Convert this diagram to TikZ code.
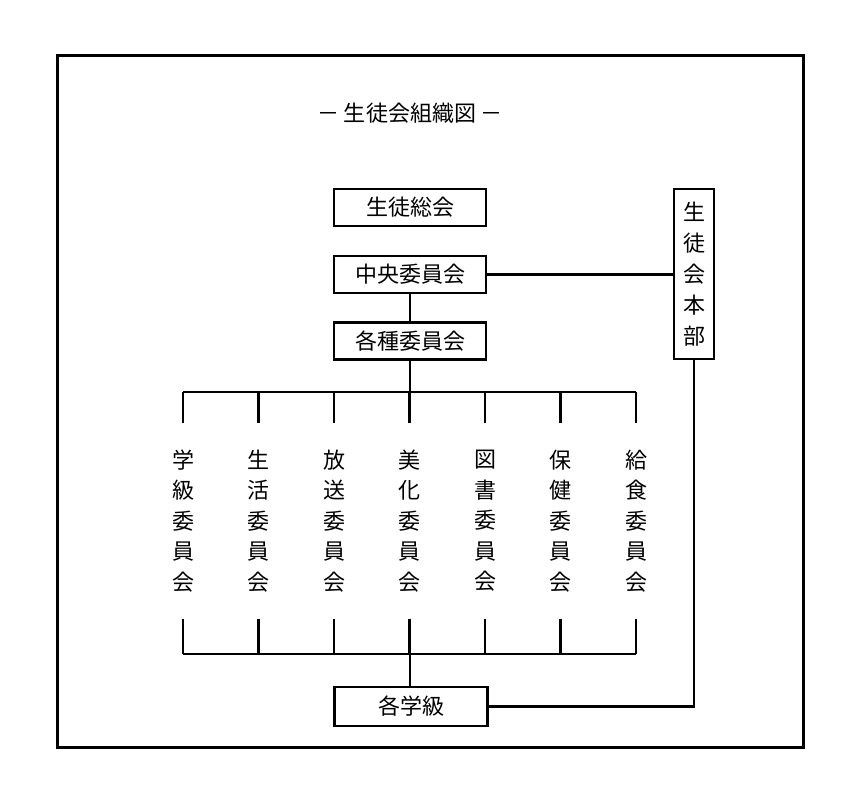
\documentclass[tikz,border=0pt]{standalone}
\usepackage{fontspec}
\setmainfont{Noto Sans CJK JP}
\begin{document}
\begin{tikzpicture}[x=1pt,y=-1pt,
  line width=2.1pt,
  box/.style={draw,line width=2.2pt,minimum width=152pt,minimum height=37pt,inner sep=0pt,font=\fontsize{22}{24}\selectfont},
  vbox/.style={draw,line width=2.2pt,minimum width=40pt,minimum height=170pt,inner sep=0pt,text width=40pt,align=center,font=\fontsize{22}{31}\selectfont},
  cmt/.style={inner sep=0pt,minimum height=193pt,text width=30pt,align=center,font=\fontsize{22}{30.5}\selectfont}]
\useasboundingbox (0,0) rectangle (850,796);
\fill[white] (0,0) rectangle (850,796);
\draw[line width=3pt] (57,55) rectangle (803,747);
\node[font=\fontsize{22}{24}\selectfont] (title) at (410,113) {－ 生徒会組織図 －};
\node[box] (sokai) at (410,207.5) {生徒総会};
\node[box] (chuo) at (410,274.5) {中央委員会};
\node[box] (kakushu) at (410,341) {各種委員会};
\node[vbox] (honbu) at (694,274) {生\\徒\\会\\本\\部};
\node[box,minimum width=153pt,minimum height=39pt] (gakkyu) at (411,706.5) {各学級};
\foreach \i/\t in {0/学\\級\\委\\員\\会,1/生\\活\\委\\員\\会,2/放\\送\\委\\員\\会,3/美\\化\\委\\員\\会,4/図\\書\\委\\員\\会,5/保\\健\\委\\員\\会,6/給\\食\\委\\員\\会}
  \node[cmt] (c\i) at ({183+75.5*\i},521) {\t};
\coordinate (tb) at (410,392);
\coordinate (bb) at (410,654);
\draw (chuo.south) -- (kakushu.north);
\draw (kakushu.south) -- (tb);
\draw (c0.north |- tb) -- (c6.north |- tb);
\draw (c0.south |- bb) -- (c6.south |- bb);
\foreach \i in {0,...,6}{
  \draw (c\i.north) -- (c\i.north |- tb);
  \draw (c\i.south) -- (c\i.south |- bb);
}
\draw (bb) -- (gakkyu.north -| bb);
\draw (chuo.east) -- (chuo.east -| honbu.west);
\draw (honbu.south) |- (gakkyu.east);
\end{tikzpicture}
\end{document}
